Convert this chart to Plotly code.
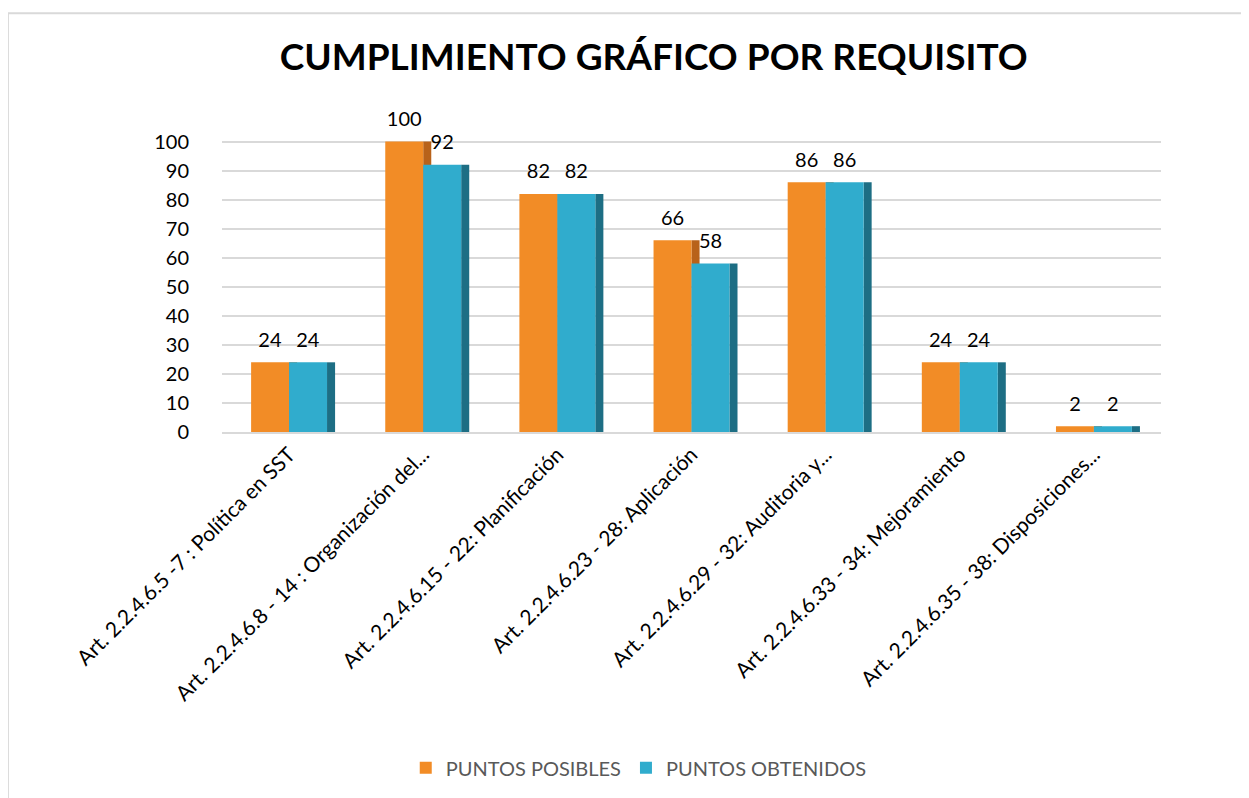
import plotly.graph_objects as go


CATEGORIAS = [
    "Art. 2.2.4.6.5 -7 : Política en SST",
    "Art. 2.2.4.6.8 - 14 : Organización del...",
    "Art. 2.2.4.6.15 - 22: Planificación",
    "Art. 2.2.4.6.23 - 28: Aplicación",
    "Art. 2.2.4.6.29 - 32: Auditoria y...",
    "Art. 2.2.4.6.33 - 34: Mejoramiento",
    "Art. 2.2.4.6.35 - 38: Disposiciones...",
]
PUNTOS_POSIBLES = [24, 100, 82, 66, 86, 24, 2]
PUNTOS_OBTENIDOS = [24, 92, 82, 58, 86, 24, 2]

FUENTE = "Lato"
NARANJA = "#F28C26"
NARANJA_OSC = "#B8621A"
AZUL = "#30ACCD"
AZUL_OSC = "#1D6E84"

ANCHO = 0.283
LADO = 0.06

# etiqueta de dato con una linea pequena debajo para separarla de la barra
PLANTILLA = "<span style='font-size:20px'>%{y}</span><br> "


def main():

    fig = go.Figure()

    # caras laterales (efecto 3D)
    fig.add_trace(go.Bar(x=CATEGORIAS, y=PUNTOS_POSIBLES, width=LADO, offset=0.0,
                         marker_color=NARANJA_OSC, marker_line_width=0,
                         showlegend=False, hoverinfo="skip"))
    fig.add_trace(go.Bar(x=CATEGORIAS, y=PUNTOS_OBTENIDOS, width=LADO, offset=ANCHO,
                         marker_color=AZUL_OSC, marker_line_width=0,
                         showlegend=False, hoverinfo="skip"))

    fig.add_trace(go.Bar(name="PUNTOS POSIBLES", x=CATEGORIAS, y=PUNTOS_POSIBLES,
                         width=ANCHO, offset=-ANCHO,
                         marker_color=NARANJA, marker_line_width=0,
                         texttemplate=PLANTILLA, textposition="outside",
                         constraintext="none",
                         textfont=dict(size=8, color="black", family=FUENTE),
                         cliponaxis=False))
    fig.add_trace(go.Bar(name="PUNTOS OBTENIDOS", x=CATEGORIAS, y=PUNTOS_OBTENIDOS,
                         width=ANCHO, offset=0.0,
                         marker_color=AZUL, marker_line_width=0,
                         texttemplate=PLANTILLA, textposition="outside",
                         constraintext="none",
                         textfont=dict(size=8, color="black", family=FUENTE),
                         cliponaxis=False))

    fig.update_xaxes(
        tickangle=-45,
        tickfont=dict(size=21, color="black", family=FUENTE),
        showline=True,
        linecolor="#D9D9D9",
        linewidth=2,
        showgrid=False,
    )

    fig.update_yaxes(
        range=[0, 104],
        tickvals=list(range(0, 101, 10)),
        tickfont=dict(size=20, color="black", family=FUENTE),
        gridcolor="#D9D9D9",
        gridwidth=2,
        zeroline=False,
        showline=False,
        ticklabelstandoff=32,
    )

    fig.update_layout(
        barmode="overlay",
        width=1249,
        height=798,
        margin=dict(l=214, r=96, t=122, b=374),
        paper_bgcolor="white",
        plot_bgcolor="white",
        font=dict(family=FUENTE),
        title=dict(
            text="<b>CUMPLIMIENTO GRÁFICO POR REQUISITO</b>",
            font=dict(size=37, color="black", family=FUENTE),
            xref="container", x=0.517, xanchor="center",
            yref="container", y=0.938, yanchor="middle",
        ),
        legend=dict(
            orientation="h",
            xref="container", x=0.505, xanchor="center",
            yref="container", y=0.048, yanchor="middle",
            font=dict(size=20, color="#595959", family=FUENTE),
            traceorder="normal",
            itemwidth=30,
        ),
        shapes=[
            dict(type="rect", xref="paper", yref="paper",
                 x0=-0.228, x1=1.2, y0=-1.4, y1=1.387,
                 line=dict(color="#D9D9D9", width=2), layer="below"),
        ],
    )

    fig.write_html("out.html")


if __name__ == "__main__":

    main()
